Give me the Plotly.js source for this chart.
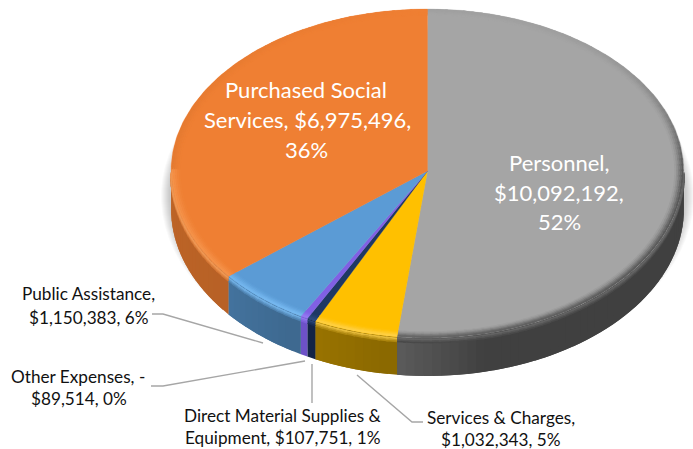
<!DOCTYPE html>
<html><head><meta charset="utf-8">
<script src="https://cdn.plot.ly/plotly-3.0.1.min.js"></script>
<style>html,body{margin:0;padding:0;background:#fff}#c{width:693px;height:449px}</style></head>
<body><div id="c"></div>
<script>
// Slices, clockwise from 12 o'clock
const categories = ["Personnel","Services & Charges","Direct Material Supplies & Equipment","Other Expenses","Public Assistance","Purchased Social Services"];
const values = [10092192,1032343,107751,-89514,1150383,6975496];
const topColors = ["#A5A5A5","#FFC000","#1F3864","#8060E4","#5B9BD5","#EF7F33"];
const sideColors = ["#404040","#9A7400","#14264A","#7355D2","#44749F","#CC6C2A"];
const edgeLights = ["#6E6E6E","#FFD24D","#2F4F85","#9A80F5","#7DC0F7","#F9A45F"];
const labelLines = [
 {t:"Purchased Social",x:306,y:89,c:"#fff",s:22},{t:"Services, $6,975,496,",x:307,y:119,c:"#fff",s:22},{t:"36%",x:306,y:149,c:"#fff",s:22},
 {t:"Personnel,",x:559,y:162,c:"#fff",s:22},{t:"$10,092,192,",x:559,y:192,c:"#fff",s:22},{t:"52%",x:559,y:221,c:"#fff",s:22},
 {t:"Public Assistance,",x:88,y:293,c:"#111",s:17.2},{t:"$1,150,383, 6%",x:89,y:317,c:"#111",s:17.2},
 {t:"Other Expenses, -",x:78,y:376,c:"#111",s:17.2},{t:"$89,514, 0%",x:79,y:398,c:"#111",s:17.2},
 {t:"Direct Material Supplies &",x:282.5,y:415,c:"#111",s:17.2},{t:"Equipment, $107,751, 1%",x:283,y:437,c:"#111",s:17.2},
 {t:"Services & Charges,",x:501,y:417,c:"#111",s:17.2},{t:"$1,032,343, 5%",x:501,y:439,c:"#111",s:17.2}
];
const leaderX = [[152,163,263],[151,163,305],[312,312],[357,412,423]];
const leaderY = [[314,314,343],[386,386,361],[364,403],[375,422,422]];

const CX=427.5, CY=171, RX=256.5, RYT=162, RYB=167, DEPTH=38, STEP=2;
const total = values.reduce((s,v)=>s+Math.abs(v),0);
const rad = d=>d*Math.PI/180;
function pt(a,r,dy){const c=Math.cos(rad(a));
  return [CX+RX*r*Math.sin(rad(a)), CY-(c>0?RYT:RYB)*r*c+(dy||0)];}
function hex(c){return [1,3,5].map(i=>parseInt(c.substr(i,2),16));}
function mix(a,b,t){const A=hex(a),B=hex(b);return "rgb("+A.map((v,i)=>Math.round(v+(B[i]-v)*t)).join(",")+")";}
function poly(pts,color,lw){const q=pts.concat([pts[0]]);return {type:"scatter",mode:"lines",x:q.map(p=>p[0]),y:q.map(p=>p[1]),
  fill:"toself",fillcolor:color,line:{color:color,width:lw===undefined?0.6:lw},hoverinfo:"skip",showlegend:false};}
function seg(a,b,r,dy,color,w){const P=pt(a,r,dy),Q=pt(b,r,dy);
  return {type:"scatter",mode:"lines",x:[P[0],Q[0]],y:[P[1],Q[1]],line:{color:color,width:w},hoverinfo:"skip",showlegend:false};}
function range(a0,a1,st){const o=[];const n=Math.max(1,Math.ceil((a1-a0)/st));for(let i=0;i<=n;i++)o.push(a0+(a1-a0)*i/n);return o;}

const traces=[];
// soft shadow
for(let i=0;i<9;i++){
  const pad=10-i, pts=[];
  for(let a=0;a<=360;a+=4){const p=pt(a,1,DEPTH*0.55);
    pts.push([p[0]+Math.sin(rad(a))*pad, p[1]-Math.cos(rad(a))*pad+4]);}
  traces.push({type:"scatter",mode:"lines",x:pts.map(p=>p[0]),y:pts.map(p=>p[1]),fill:"toself",
    fillcolor:"rgba(0,0,0,0.024)",line:{width:0},hoverinfo:"skip",showlegend:false});
}
let acc=0;
const slices=values.map((v,i)=>{const a0=acc;acc+=Math.abs(v)/total*360;return {a0,a1:acc,i};});
// side wall: each step overlaps the next one so no seams appear
slices.forEach(s=>{
  const lo=Math.max(s.a0,90), hi=Math.min(s.a1,270);
  if(hi<=lo) return;
  const as=range(lo,hi,STEP);
  for(let k=as.length-2;k>=0;k--){
    const a=as[k],m=(a+as[k+1])/2;
    let col=sideColors[s.i];
    if(s.i===0){ col=mix("#404040","#5E5E5E",Math.max(0,(m-165)/22)); }
    else { const t=(m-s.a0)/(s.a1-s.a0); col=mix(sideColors[s.i],"#000000",0.10*(1-t)); }
    const end=Math.min(hi,as[k+1]+STEP);
    traces.push(poly([pt(a,1,0),pt(end,1,0),pt(end,1,DEPTH),pt(a,1,DEPTH)],col,0));
  }
});
// top face
slices.forEach(s=>{
  const pts=[[CX,CY]];
  range(s.a0,s.a1,1).forEach(a=>pts.push(pt(a,1,0)));
  traces.push(poly(pts,topColors[s.i],0.3));
});
// bevel on the rim
const bands=[[0.966,0.08],[0.973,0.22],[0.98,0.42],[0.987,0.65],[0.994,0.85]];
slices.forEach(s=>{
  const as=range(s.a0,s.a1,STEP);
  bands.forEach(bd=>{
    for(let k=0;k<as.length-1;k++){
      const a=as[k],b=as[k+1],m=(a+b)/2;
      const front=Math.max(0,-Math.cos(rad(m)));
      let col;
      if(s.i===0){
        const str=m<90?0.06+0.94*Math.pow(m/90,3.5):1-0.2*(m-90)/97;
        col=mix("#A5A5A5","#4A4A4A",str*bd[1]);
      } else if(s.i===5){
        const str=m<270?0.6:0.6*(360-m)/90;
        col=mix(topColors[5],m>270?"#D8752F":"#F9A45F",bd[1]*str);
      } else {
        col=mix(topColors[s.i],edgeLights[s.i],bd[1]*(0.4+0.6*front));
      }
      traces.push(seg(a,Math.min(b+0.6,s.a1),bd[0],0,col,1.9));
    }
  });
  // highlight melting into the wall
  const lo=Math.max(s.a0,90),hi=Math.min(s.a1,270);
  if(hi>lo){
    const asd=range(lo,hi,STEP);
    [[4.5,0.2],[3,0.45],[1.5,0.75]].forEach(d=>{
      for(let k=0;k<asd.length-1;k++){
        traces.push(seg(asd[k],Math.min(asd[k+1]+0.6,hi),1,d[0],mix(sideColors[s.i],s.i===0?"#6E6E6E":edgeLights[s.i],d[1]),1.7));
      }
    });
  }
});
// leader lines
leaderX.forEach((xs,i)=>traces.push({type:"scatter",mode:"lines",x:xs,y:leaderY[i],line:{color:"#A6A6A6",width:1.4},hoverinfo:"skip",showlegend:false}));

const layout={width:693,height:449,margin:{l:0,r:0,t:0,b:0},paper_bgcolor:"#fff",plot_bgcolor:"#fff",showlegend:false,
  xaxis:{range:[0,693],visible:false,fixedrange:true},
  yaxis:{range:[449,0],visible:false,fixedrange:true},
  annotations:labelLines.map(l=>({x:l.x,y:l.y,xref:"x",yref:"y",text:l.t,showarrow:false,xanchor:"center",yanchor:"middle",
    font:{family:"Lato, Carlito, sans-serif",size:l.s,color:l.c}}))};
Plotly.newPlot("c",traces,layout,{displayModeBar:false,staticPlot:true});
</script></body></html>
